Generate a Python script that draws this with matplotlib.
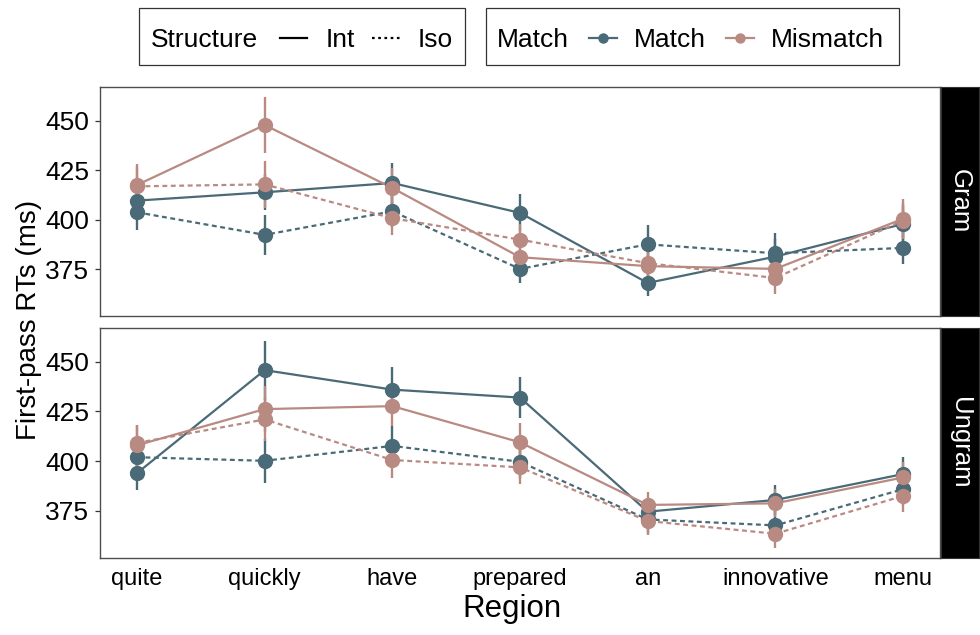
import matplotlib
matplotlib.use("Agg")
import matplotlib.pyplot as plt
from matplotlib.lines import Line2D
from matplotlib.patches import Rectangle

plt.rcParams['font.family'] = ['Liberation Sans', 'DejaVu Sans']

# ---- data -------------------------------------------------------------
regions = ["quite", "quickly", "have", "prepared", "an", "innovative", "menu"]
panels = ["Gram", "Ungram"]
yticks = [375, 400, 425, 450]

# Gram panel: mean first-pass RTs (ms)
gram_match_int = [409.6, 413.8, 418.5, 403.4, 368.0, 381.3, 397.8]
gram_match_iso = [403.7, 392.3, 404.2, 375.1, 387.5, 383.0, 385.7]
gram_mismatch_int = [417.5, 447.8, 416.0, 381.0, 376.5, 375.1, 400.4]
gram_mismatch_iso = [416.8, 417.8, 400.7, 389.9, 378.0, 370.5, 399.5]

# Gram panel: standard errors
gram_match_int_se = [8.0, 9.0, 10.0, 9.4, 6.4, 9.0, 9.0]
gram_match_iso_se = [9.0, 10.0, 8.0, 7.0, 10.0, 10.0, 8.0]
gram_mismatch_int_se = [10.5, 14.0, 10.0, 8.0, 8.0, 8.0, 10.0]
gram_mismatch_iso_se = [10.0, 12.0, 8.4, 8.0, 7.0, 8.0, 9.0]

# Ungram panel: mean first-pass RTs (ms)
ungram_match_int = [394.0, 445.8, 436.0, 432.0, 374.6, 380.5, 393.5]
ungram_match_iso = [402.0, 400.2, 407.7, 399.7, 370.7, 367.7, 385.9]
ungram_mismatch_int = [408.0, 426.2, 427.7, 409.5, 378.0, 378.8, 391.8]
ungram_mismatch_iso = [409.2, 421.0, 400.6, 396.9, 369.9, 363.5, 382.5]

# Ungram panel: standard errors
ungram_match_int_se = [8.4, 14.8, 11.5, 10.4, 7.0, 7.4, 8.8]
ungram_match_iso_se = [9.0, 11.2, 10.0, 8.0, 7.0, 7.0, 8.0]
ungram_mismatch_int_se = [10.4, 11.7, 10.0, 9.8, 6.5, 7.0, 8.0]
ungram_mismatch_iso_se = [9.2, 10.7, 9.1, 8.5, 7.1, 7.4, 7.9]

# ---- styling ------------------------------------------------------------
COL_MATCH = "#4A6A77"
COL_MISMATCH = "#B98A82"
DASH = (0, (2.2, 1.6))

W, H = 980, 635
fig = plt.figure(figsize=(W / 100, H / 100), dpi=100)


def fx(px):
    return px / W


def fy(py):
    return 1 - py / H


def axes_box(left, top, right, bottom):
    return [fx(left), fy(bottom), fx(right) - fx(left), fy(top) - fy(bottom)]


panel_data = {
    "Gram": [
        (gram_match_int, gram_match_int_se, COL_MATCH, "-"),
        (gram_match_iso, gram_match_iso_se, COL_MATCH, DASH),
        (gram_mismatch_int, gram_mismatch_int_se, COL_MISMATCH, "-"),
        (gram_mismatch_iso, gram_mismatch_iso_se, COL_MISMATCH, DASH),
    ],
    "Ungram": [
        (ungram_match_int, ungram_match_int_se, COL_MATCH, "-"),
        (ungram_match_iso, ungram_match_iso_se, COL_MATCH, DASH),
        (ungram_mismatch_int, ungram_mismatch_int_se, COL_MISMATCH, "-"),
        (ungram_mismatch_iso, ungram_mismatch_iso_se, COL_MISMATCH, DASH),
    ],
}

panel_px = {"Gram": (87, 316), "Ungram": (328, 558)}
x = list(range(len(regions)))

axes = []
for name in panels:
    top, bottom = panel_px[name]
    ax = fig.add_axes(axes_box(100, top, 940, bottom))
    axes.append(ax)
    for vals, se, col, ls in panel_data[name]:
        lo = [v - s for v, s in zip(vals, se)]
        hi = [v + s for v, s in zip(vals, se)]
        ax.vlines(x, lo, hi, color=col, lw=1.7, zorder=2)
        ax.plot(x, vals, color=col, lw=1.6, linestyle=ls, zorder=3)
        ax.plot(x, vals, color=col, lw=0, marker="o", markersize=10,
                zorder=4)
    ax.set_xlim(-0.29, 6.29)
    ax.set_ylim(351.3, 467.0)
    ax.set_yticks(yticks)
    ax.set_yticklabels([str(t) for t in yticks], fontsize=19)
    ax.tick_params(axis="y", length=3.6, width=0.9, color="#333333",
                   pad=4, labelcolor="black")
    ax.set_xticks(x)
    for s in ax.spines.values():
        s.set_color("#4d4d4d")
        s.set_linewidth(1.0)

    # facet strip on the right
    sax = fig.add_axes(axes_box(941, top, 979, bottom))
    sax.set_facecolor("black")
    sax.set_xticks([])
    sax.set_yticks([])
    for s in sax.spines.values():
        s.set_color("#333333")
    sax.text(0.5, 0.5, name, rotation=-90, color="white", fontsize=18.5,
             ha="center", va="center", transform=sax.transAxes)

axes[0].tick_params(axis="x", length=0, labelbottom=False)
axes[1].set_xticklabels(regions, fontsize=17)
axes[1].tick_params(axis="x", length=0, pad=7)

fig.text(fx(512), fy(609), "Region", fontsize=22.5, ha="center", va="center")
fig.text(fx(29), fy(320), "First-pass RTs (ms)", fontsize=20,
         rotation=90, ha="center", va="center")

# ---- legends along the top --------------------------------------------
ly = 37.5


def box(x0, x1):
    fig.patches.append(Rectangle((fx(x0), fy(65)), fx(x1) - fx(x0),
                                 fy(8.5) - fy(65), transform=fig.transFigure,
                                 fill=False, edgecolor="#333333", lw=0.9))


def key_line(x0, x1, color, ls, marker=None):
    fig.add_artist(Line2D([fx(x0), fx(x1)], [fy(ly), fy(ly)],
                          transform=fig.transFigure, color=color, lw=1.6,
                          linestyle=ls))
    if marker:
        fig.add_artist(Line2D([fx((x0 + x1) / 2)], [fy(ly)],
                              transform=fig.transFigure, color=color,
                              marker="o", markersize=6.5, lw=0))


def key_text(x0, s):
    fig.text(fx(x0), fy(ly), s, fontsize=19, ha="left", va="center_baseline")


box(139, 465)
key_text(151, "Structure")
key_line(280, 307, "black", "-")
key_text(326, "Int")
key_line(372, 400, "black", (0, (1.2, 1.6)))
key_text(418, "Iso")

box(486, 899)
key_text(497, "Match")
key_line(589, 617, COL_MATCH, "-", marker=True)
key_text(634, "Match")
key_line(726, 754, COL_MISMATCH, "-", marker=True)
key_text(771, "Mismatch")

fig.savefig("out.png", dpi=100)
